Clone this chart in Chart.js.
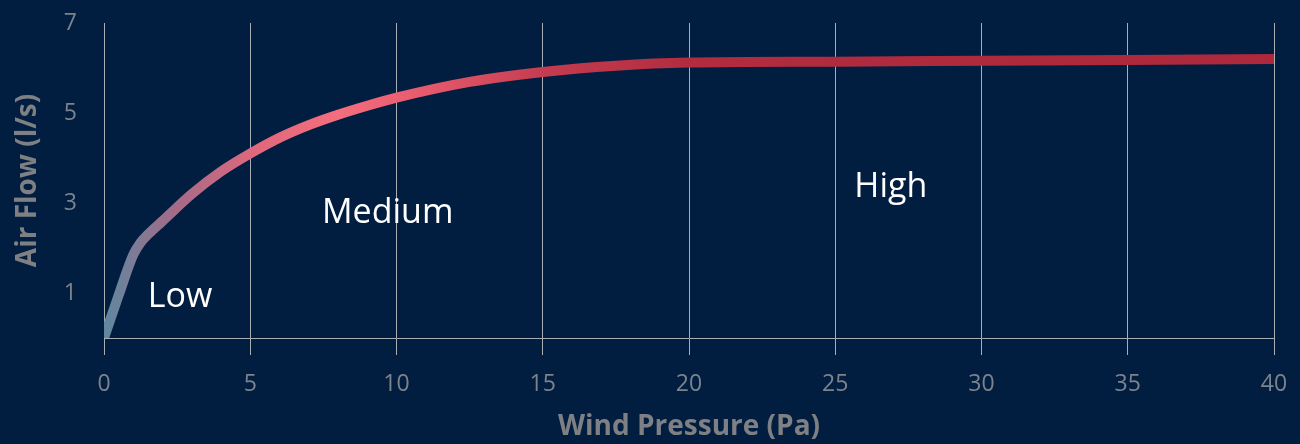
<!DOCTYPE html>
<html>
<head>
<meta charset="utf-8">
<title>Air Flow vs Wind Pressure</title>
<script src="https://cdn.jsdelivr.net/npm/chart.js@4.4.1/dist/chart.umd.min.js"></script>
<style>
  html, body { margin: 0; padding: 0; background: #011e41; }
  #wrap { width: 1300px; height: 444px; position: relative; }
</style>
</head>
<body>
<div id="wrap"><canvas id="flowChart"></canvas></div>
<script>
// valores
const pressure = [0, 0.5, 1, 1.25, 1.5, 2, 3, 4, 5, 6, 7, 8, 9, 10, 12.5, 15, 17.5, 20, 25, 30, 35, 40];
const airFlow  = [0, 0.95, 1.85, 2.12, 2.3, 2.6, 3.2, 3.7, 4.1, 4.45, 4.73, 4.96, 5.16, 5.34, 5.69, 5.91, 6.05, 6.12, 6.14, 6.16, 6.18, 6.2];
const xTicks = [0, 5, 10, 15, 20, 25, 30, 35, 40];
const yTicks = [1, 3, 5, 7];

// rótulos das zonas (em unidades dos eixos)
const zoneNames = ['Low', 'Medium', 'High'];
const zoneX = [2.6, 9.7, 26.9];
const zoneY = [0.69, 2.56, 3.13];

const gridColor = '#a9adb4';
const tickColor = '#7d838c';
const titleColor = '#7f8083';

// gradiente da linha, da esquerda para a direita
function lineGradient(context) {
    const chart = context.chart;
    const area = chart.chartArea;
    if (!area) return '#f06c7c';
    const g = chart.ctx.createLinearGradient(area.left, 0, area.right, 0);
    g.addColorStop(0, '#5f88a0');
    g.addColorStop(0.06, '#a46b88');
    g.addColorStop(0.13, '#e0687d');
    g.addColorStop(0.2, '#f46e7e');
    g.addColorStop(0.28, '#e6586b');
    g.addColorStop(0.38, '#c33b4f');
    g.addColorStop(0.5, '#b22c40');
    g.addColorStop(1, '#ae283c');
    return g;
}

const zoneLabels = {
    id: 'zoneLabels',
    afterDatasetsDraw(chart) {
        const c = chart.ctx;
        const xs = chart.scales.x, ys = chart.scales.y;
        c.save();
        c.fillStyle = '#ffffff';
        c.font = '34px "Open Sans", "Noto Sans", sans-serif';
        c.textAlign = 'center';
        c.textBaseline = 'alphabetic';
        zoneNames.forEach(function(name, i) {
            c.fillText(name, xs.getPixelForValue(zoneX[i]), ys.getPixelForValue(zoneY[i]));
        });
        c.restore();
    }
};

const ctx = document.getElementById('flowChart');
new Chart(ctx.getContext('2d'), {
    type: 'line',
    data: {
        datasets: [{
            label: 'Air Flow',
            data: pressure.map(function(p, i) { return { x: p, y: airFlow[i] }; }),
            borderColor: lineGradient,
            borderWidth: 10,
            borderCapStyle: 'butt',
            borderJoinStyle: 'round',
            cubicInterpolationMode: 'monotone',
            pointRadius: 0,
            fill: false
        }]
    },
    options: {
        responsive: true,
        maintainAspectRatio: false,
        animation: false,
        layout: { padding: { top: 23, right: 26, left: 0, bottom: 0 } },
        plugins: {
            legend: { display: false },
            tooltip: { enabled: false }
        },
        scales: {
            x: {
                type: 'linear',
                min: 0,
                max: 40,
                afterBuildTicks: function(scale) {
                    scale.ticks = xTicks.map(function(v) { return { value: v }; });
                },
                afterFit: function(scale) {
                    scale.height = 106;
                    scale.paddingRight = 0;
                    scale.paddingLeft = 0;
                },
                grid: {
                    display: true,
                    color: gridColor,
                    lineWidth: 1,
                    drawTicks: true,
                    tickLength: 17
                },
                border: { display: true, color: gridColor, width: 1 },
                ticks: {
                    color: tickColor,
                    padding: 16,
                    maxRotation: 0,
                    font: { family: '"Open Sans", "Noto Sans", sans-serif', size: 23 }
                },
                title: {
                    display: true,
                    text: 'Wind Pressure (Pa)',
                    color: titleColor,
                    padding: { top: 0, bottom: 0 },
                    font: { family: '"Open Sans", "Noto Sans", sans-serif', size: 28, weight: 'bold' }
                }
            },
            y: {
                type: 'linear',
                min: 0,
                max: 7,
                afterBuildTicks: function(scale) {
                    scale.ticks = yTicks.map(function(v) { return { value: v }; });
                },
                afterFit: function(scale) {
                    scale.width = 104;
                    scale.paddingTop = 0;
                    scale.paddingBottom = 0;
                },
                grid: { display: false },
                border: { display: false },
                ticks: {
                    color: tickColor,
                    padding: 19,
                    font: { family: '"Open Sans", "Noto Sans", sans-serif', size: 23 }
                },
                title: {
                    display: true,
                    text: 'Air Flow (l/s)',
                    color: titleColor,
                    padding: { top: 11, bottom: 0 },
                    font: { family: '"Open Sans", "Noto Sans", sans-serif', size: 28, weight: 'bold' }
                }
            }
        }
    },
    plugins: [zoneLabels]
});
</script>
</body>
</html>
